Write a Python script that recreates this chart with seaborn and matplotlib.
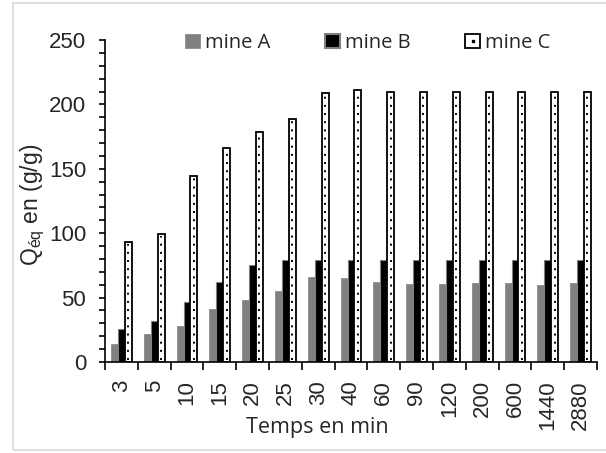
import matplotlib
matplotlib.use("Agg")
import matplotlib.pyplot as plt
import seaborn as sns
import pandas as pd
import numpy as np
from matplotlib.patches import Patch, Rectangle
from matplotlib.lines import Line2D

# ---- data ----
temps = ["3", "5", "10", "15", "20", "25", "30", "40", "60", "90", "120", "200", "600", "1440", "2880"]
mine_a = [14, 21.5, 28, 41, 48, 55, 66, 65, 62.5, 60.5, 60.5, 61.5, 61, 59.5, 61.5]
mine_b = [26, 31.5, 46.5, 62.5, 75, 79, 79.5, 79, 79, 79, 79, 79, 79, 79, 79]
mine_c = [93, 99.5, 144.5, 166, 178.5, 189, 208.5, 211, 209.5, 209.5, 209.5, 209.5, 209.5, 209.5, 209.5]
series_names = ["mine A", "mine B", "mine C"]
y_ticks = [0, 50, 100, 150, 200, 250]

df = pd.DataFrame({
    "temps": temps * 3,
    "Q": mine_a + mine_b + mine_c,
    "mine": [series_names[0]] * len(temps) + [series_names[1]] * len(temps) + [series_names[2]] * len(temps),
})

sns.set_theme(style="white")
plt.rcParams["font.family"] = ["Liberation Sans", "DejaVu Sans"]

fig = plt.figure(figsize=(6.06, 4.53), dpi=100)
ax = fig.add_axes([105 / 606, 1 - 362 / 453, (597 - 105) / 606, (362 - 40) / 453])

fills = ["#808080", "#000000", "#ffffff"]
edges = ["#8c8c8c", "#808080", "#000000"]
lws = [0.6, 0.8, 1.3]

sns.barplot(data=df, x="temps", y="Q", hue="mine", order=temps, hue_order=series_names,
            palette=fills, width=0.63, gap=0, ax=ax, legend=False, saturation=1)

for i, cont in enumerate(ax.containers):
    for p in cont.patches:
        p.set_facecolor(fills[i])
        p.set_edgecolor(edges[i])
        p.set_linewidth(lws[i])
        p.set_zorder(2)
    if i == 2:
        xs = [p.get_x() + p.get_width() / 2 for p in cont.patches]
        hs = [p.get_height() for p in cont.patches]
        ax.vlines(xs, 1.5, np.array(hs) - 1.5, colors="black", linewidth=1.4,
                  linestyles=(0, (1, 3.2)), zorder=3)

ax.set_ylim(0, 250)
ax.set_xlim(-0.5, len(temps) - 0.5)
ax.set_yticks(y_ticks)
ax.set_yticks(np.arange(0, 251, 10), minor=True)
ax.set_xticks(np.arange(-0.5, len(temps), 1.0), minor=True)

for s in ["top", "right"]:
    ax.spines[s].set_visible(False)
for s in ["left", "bottom"]:
    ax.spines[s].set_linewidth(1.2)
    ax.spines[s].set_color("black")

ax.tick_params(axis="y", which="major", direction="out", length=4.5, width=1.2, color="black",
               labelsize=16, pad=9, left=True)
ax.tick_params(axis="y", which="minor", direction="out", length=4, width=1.2, color="black", left=True)
ax.tick_params(axis="x", which="major", length=0, labelsize=16, pad=13, bottom=True)
ax.tick_params(axis="x", which="minor", direction="out", length=6, width=1.2, color="black", bottom=True)
plt.setp(ax.get_xticklabels(), rotation=90)

ax.set_xlabel("Temps en min", fontsize=15.5, family=["Open Sans", "DejaVu Sans"])
ax.xaxis.set_label_coords((317 - 105) / (597 - 105), -(428 - 362) / (362 - 40))
ax.xaxis.label.set_va("center")
ax.set_ylabel("Q$_{\\mathregular{éq}}$ en (g/g)", fontsize=16.5)
ax.yaxis.set_label_coords(-(105 - 33) / (597 - 105), (362 - 205) / (362 - 40))
ax.yaxis.label.set_va("center")

handles = [
    Patch(facecolor=fills[0], edgecolor=edges[0], linewidth=0.6),
    Patch(facecolor=fills[1], edgecolor=edges[1], linewidth=1.5),
    (Patch(facecolor="white", edgecolor="black", linewidth=1.3),
     Line2D([], [], marker="s", markersize=1.8, color="black", linestyle="")),
]
leg = fig.legend(handles, series_names, loc="center", bbox_to_anchor=(368 / 606, 1 - 43 / 453),
                 ncol=3, frameon=False, handlelength=0.75, handleheight=0.75, handletextpad=0.25,
                 columnspacing=2.7, prop={"family": ["Open Sans", "DejaVu Sans"], "size": 14.5})

fig.patches.append(Rectangle((13 / 606, 3 / 453), 1.0, 1 - 6 / 453, transform=fig.transFigure,
                             fill=False, edgecolor="#d9d9d9", linewidth=1.2, figure=fig))

fig.savefig("out.png", dpi=100)
